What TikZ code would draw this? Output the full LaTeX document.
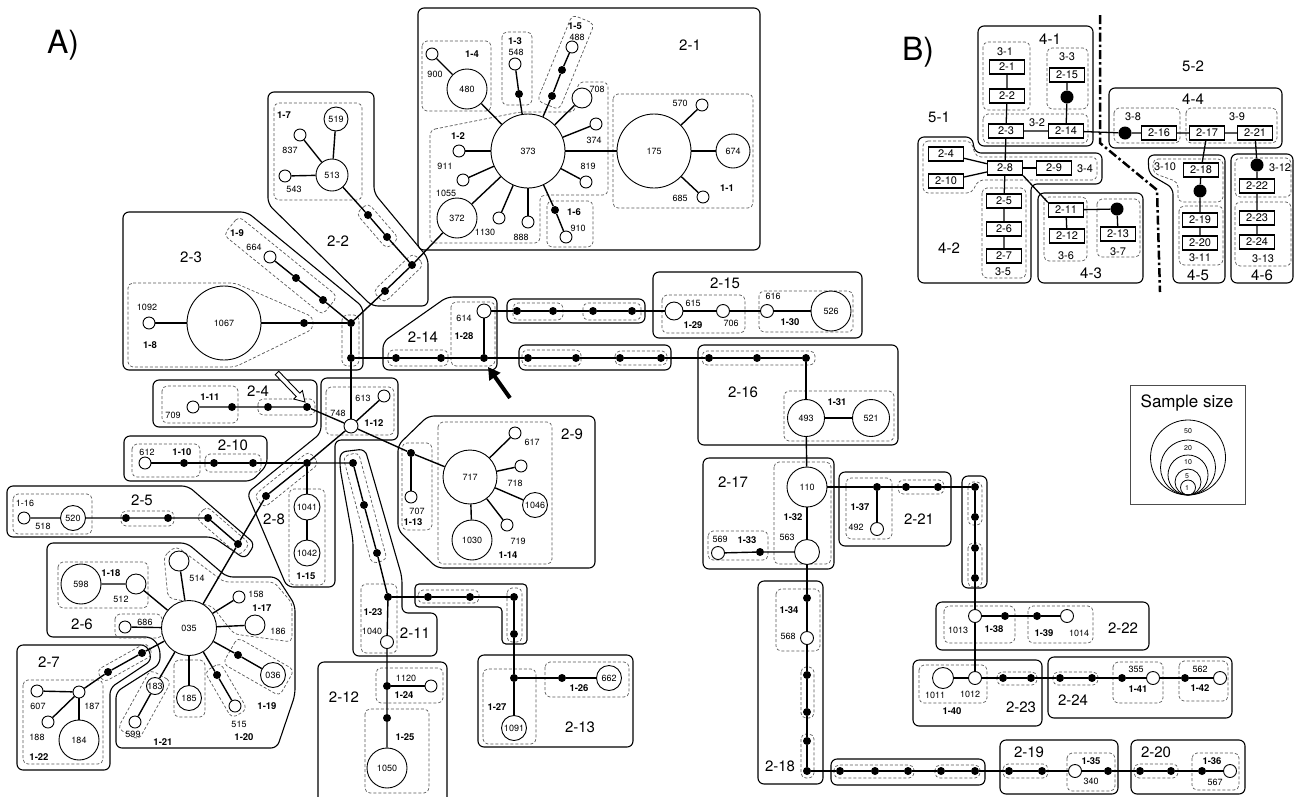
\documentclass[tikz,border=0pt]{standalone}
\usepackage{fontspec}
\setmainfont{TeX Gyre Heros}
\usetikzlibrary{calc,arrows.meta}
\pgfdeclarelayer{bg}\pgfdeclarelayer{mid}\pgfsetlayers{bg,mid,main}
\tikzset{
 hap/.style={circle,draw,line width=0.9pt,fill=white,inner sep=0pt,font=\fontsize{9}{9}\selectfont},
 dot/.style={circle,fill=black,inner sep=0pt,minimum size=8pt},
 bdot/.style={circle,fill=black,inner sep=0pt,minimum size=13pt},
 edge/.style={line width=1.4pt},
 bedge/.style={line width=1.3pt},
 grp/.style={draw,line width=1.1pt,rounded corners=6pt},
 sub/.style={draw=black!65,line width=0.7pt,dash pattern=on 3pt off 2pt,rounded corners=5pt},
 sl/.style={inner sep=0pt,font=\fontsize{9}{9}\selectfont},
 bl/.style={inner sep=0pt,font=\fontsize{9.5}{9.5}\selectfont\bfseries},
 gl/.style={inner sep=0pt,font=\fontsize{15}{15}\selectfont},
 ml/.style={inner sep=0pt,font=\fontsize{11}{11}\selectfont},
 big/.style={inner sep=0pt,font=\fontsize{32}{32}\selectfont},
 tl/.style={inner sep=0pt,font=\fontsize{7}{7}\selectfont},
 bx/.style={draw,line width=1.3pt,minimum width=35pt,minimum height=14pt,inner sep=0pt,fill=white,font=\fontsize{11}{11}\selectfont},
}
\newcounter{lbn}
\newcommand\mkH[5]{\node[hap,minimum size=#4pt] (#1) at (#2,#3) {#5};}
\newcommand\mkD[3]{\node[dot] (#1) at (#2,#3) {};}
\newcommand\mkL[4][sl]{\stepcounter{lbn}\node[#1] (lab\thelbn) at (#2,#3) {#4};}
\newcommand\rb[4]{\draw[grp] (#1,#2) rectangle (#3,#4);}
\newcommand\db[4]{\draw[sub] (#1,#2) rectangle (#3,#4);}
\newcommand\tb[7]{%
 \coordinate (tbA) at (#1,#2);\coordinate (tbB) at (#3,#4);
 \coordinate (tbP) at ($(tbA)!-#6pt!(tbB)$);\coordinate (tbQ) at ($(tbB)!-#7pt!(tbA)$);
 \draw[sub] ($(tbP)!#5pt!90:(tbQ)$) -- ($(tbP)!#5pt!-90:(tbQ)$) -- ($(tbQ)!#5pt!90:(tbP)$) -- ($(tbQ)!#5pt!-90:(tbP)$) -- cycle;}
\begin{document}
\begin{tikzpicture}[x=1pt,y=-1pt]
\useasboundingbox (0,0) rectangle (1298,796);
% ---------------- nodes A ----------------
% 2-1
\mkH{h373}{528}{151}{74}{373}
\mkH{h175}{654}{151}{74}{175}
\mkH{h674}{733}{151}{34}{674}
\mkH{h570}{702}{105}{12}{}
\mkH{h685}{703}{197}{12}{}
\mkH{h480}{467}{89}{40}{480}
\mkH{h900}{432}{54}{12}{}
\mkH{h548}{515}{64}{12}{}
\mkD{d13}{519}{94}
\mkH{h488}{572}{47}{12}{}
\mkD{d15a}{562}{70}
\mkD{d15b}{552}{96}
\mkH{h708}{582}{98}{20}{}
\mkH{h374}{596}{124}{12}{}
\mkH{h819}{586}{182}{12}{}
\mkD{d16}{555}{210}
\mkH{h910}{566}{237}{12}{}
\mkH{h888}{528}{222}{12}{}
\mkH{h1130}{499}{218}{12}{}
\mkH{h372}{457}{218}{40}{372}
\mkH{h911}{459}{151}{12}{}
\mkH{h911b}{463}{180}{12}{}
% 2-2
\mkH{h513}{332}{175}{32}{513}
\mkH{h519}{336}{119}{24}{519}
\mkH{h837}{300}{135}{12}{}
\mkH{h543}{285}{176}{12}{}
\mkD{d22a}{368}{215}
\mkD{d22b}{387}{237}
\mkD{d22c}{412}{265}
\mkD{d22d}{385}{291}
\mkD{d23a}{351}{323}
\mkD{d23b}{351}{358}
% 2-3
\mkH{h1067}{224}{323}{74}{1067}
\mkH{h1092}{149}{323}{12}{}
\mkD{d8}{304}{323}
\mkH{h664}{270}{257}{12}{}
\mkD{d9a}{296}{278}
\mkD{d9b}{323}{300}
% 2-4
\mkH{h709}{193}{407}{12}{}
\mkD{g1}{232}{407}
\mkD{d4a}{268}{407}
\mkD{d4b}{307}{407}
% 2-8
\mkH{h748}{351}{426}{14}{}
\mkH{h613}{384}{396}{12}{}
\mkD{d8a}{307}{463}
\mkD{d8b}{266}{496}
\mkH{h1041}{307}{507}{26}{1041}
\mkH{h1042}{307}{553}{26}{1042}
% 2-10
\mkH{h612}{145}{463}{12}{}
\mkD{d10a}{184}{463}
\mkD{d10b}{214}{463}
\mkD{d10c}{253}{463}
% 2-5
\mkH{h518}{24}{518}{12}{}
\mkH{h520}{73}{518}{25}{520}
\mkD{d5a}{126}{518}
\mkD{d5b}{168}{518}
\mkD{d5c}{208}{518}
\mkD{d5e}{238}{544}
% 2-6
\mkH{h035}{189}{628}{55}{035}
\mkH{h598}{81}{584}{40}{598}
\mkH{h512}{136}{584}{20}{}
\mkH{h514}{179}{561}{20}{}
\mkH{h158}{239}{597}{12}{}
\mkH{h186}{255}{625}{20}{}
\mkH{h686}{125}{627}{12}{}
\mkD{d36}{238}{655}
\mkH{h036}{273}{675}{25}{036}
\mkD{d20}{217}{675}
\mkH{h515}{235}{706}{12}{}
\mkH{h185}{189}{698}{25}{185}
\mkH{h183}{155}{686}{17}{183}
\mkH{h599}{135}{722}{12}{}
\mkD{d27a}{142}{653}
\mkD{d27b}{108}{672}
\mkH{h187}{79}{692}{12}{}
\mkH{h607}{37}{691}{12}{}
\mkH{h188}{48}{722}{12}{}
\mkH{h184}{79}{740}{40}{184}
% 2-11
\mkD{d11a}{353}{463}
\mkD{d11b}{364}{505}
\mkD{d11c}{377}{553}
\mkD{d11d}{388}{597}
\mkH{h1040}{387}{642}{13}{}
\mkD{d12a}{428}{597}
\mkD{d12b}{470}{597}
\mkD{d12c}{514}{597}
\mkD{d12d}{514}{634}
% 2-12
\mkD{d24}{387}{686}
\mkH{h1120}{431}{686}{12}{}
\mkD{d25}{387}{718}
\mkH{h1050}{387}{768}{40}{1050}
% 2-13
\mkD{d13j}{514}{678}
\mkH{h1091}{514}{728}{25}{1091}
\mkD{d26}{562}{678}
\mkH{h662}{609}{678}{25}{662}
% 2-9
\mkD{d9x}{411}{453}
\mkH{h707}{411}{497}{12}{}
\mkH{h717}{470}{477}{54}{717}
\mkH{h617}{515}{433}{12}{}
\mkH{h718}{521}{466}{12}{}
\mkH{h1046}{535}{505}{25}{1046}
\mkH{h719}{507}{525}{12}{}
\mkH{h1030}{472}{540}{40}{1030}
% 2-14
\mkH{h614}{484}{311}{14}{}
\mkD{d28}{484}{358}
\mkD{d14a}{396}{358}
\mkD{d14b}{441}{358}
\mkD{s1}{528}{358}\mkD{s2}{576}{358}\mkD{s3}{620}{358}\mkD{s4}{661}{358}
\mkD{s5}{709}{358}\mkD{s6}{757}{358}\mkD{s7}{806}{358}
\mkD{r1}{517}{311}\mkD{r2}{553}{311}\mkD{r3}{593}{311}\mkD{r4}{632}{311}
\mkH{h615}{674}{311}{18}{}
\mkH{h706}{723}{311}{13}{}
\mkH{h616}{767}{311}{13}{}
\mkH{h526}{831}{311}{40}{526}
% 2-16, 2-17
\mkH{h493}{806}{418}{37}{493}
\mkH{h521}{871}{418}{37}{521}
\mkH{h110}{807}{487}{40}{110}
\mkH{h563}{807}{552}{25}{}
\mkH{h569}{718}{553}{13}{}
\mkD{d33}{760}{552}
% 2-21, column
\mkD{d37}{877}{487}
\mkH{h492}{877}{529}{13}{}
\mkD{d21a}{906}{487}
\mkD{d21b}{938}{487}
\mkD{c1}{975}{487}\mkD{c2}{975}{517}\mkD{c3}{975}{548}\mkD{c4}{975}{578}
% 2-22
\mkH{h1013}{975}{616}{13}{}
\mkD{d38}{1005}{616}
\mkD{d39}{1037}{616}
\mkH{h1014}{1067}{616}{13}{}
% 2-23, 2-24
\mkH{h1011}{943}{678}{21}{}
\mkH{h1012}{975}{678}{13}{}
\mkD{d23x}{1003}{678}
\mkD{d23y}{1031}{678}
\mkD{d24a}{1060}{678}
\mkD{d24b}{1092}{678}
\mkD{d41}{1122}{678}
\mkH{h355}{1153}{678}{13}{}
\mkD{d42}{1185}{678}
\mkH{h562}{1220}{678}{13}{}
% 2-18 .. 2-20
\mkD{d34}{807}{598}
\mkH{h568}{807}{638}{13}{}
\mkD{q1}{807}{675}\mkD{q2}{807}{712}\mkD{q3}{807}{741}\mkD{q4}{807}{771}
\mkD{w1}{840}{771}\mkD{w2}{875}{771}\mkD{w3}{908}{771}\mkD{w4}{941}{771}\mkD{w5}{975}{771}
\mkD{d19a}{1009}{771}\mkD{d19b}{1042}{771}
\mkH{h340}{1075}{771}{13}{}
\mkD{d35}{1108}{771}
\mkD{d20a}{1140}{771}\mkD{d20b}{1171}{771}
\mkD{d36x}{1202}{771}
\mkH{h567}{1230}{771}{13}{}
% ---------------- labels A ----------------
\mkL[big]{63}{45}{A)}
\mkL[gl]{690}{45}{2-1}\mkL[gl]{338}{241}{2-2}\mkL[gl]{191}{257}{2-3}\mkL[gl]{258}{391}{2-4}
\mkL[gl]{142}{500}{2-5}\mkL[gl]{82}{624}{2-6}\mkL[gl]{49}{662}{2-7}\mkL[gl]{274}{519}{2-8}
\mkL[gl]{572}{434}{2-9}\mkL[gl]{233}{445}{2-10}\mkL[gl]{415}{633}{2-11}\mkL[gl]{344}{697}{2-12}
\mkL[gl]{580}{727}{2-13}\mkL[gl]{423}{337}{2-14}\mkL[gl]{725}{283}{2-15}\mkL[gl]{743}{392}{2-16}
\mkL[gl]{733}{482}{2-17}\mkL[gl]{780}{766}{2-18}\mkL[gl]{1029}{752}{2-19}\mkL[gl]{1156}{752}{2-20}
\mkL[gl]{919}{519}{2-21}\mkL[gl]{1123}{628}{2-22}\mkL[gl]{1021}{707}{2-23}\mkL[gl]{1073}{700}{2-24}
\mkL{680}{103}{570}\mkL{680}{198}{685}\mkL[bl]{727}{188}{1-1}\mkL{435}{74}{900}\mkL[bl]{472}{54}{1-4}
\mkL{516}{52}{548}\mkL[bl]{515}{41}{1-3}\mkL{577}{37}{488}\mkL[bl]{575}{26}{1-5}\mkL{597}{89}{708}
\mkL{594}{140}{374}\mkL{588}{166}{819}\mkL[bl]{574}{212}{1-6}\mkL{578}{228}{910}\mkL{521}{237}{888}
\mkL{485}{232}{1130}\mkL{446}{193}{1055}\mkL{445}{166}{911}\mkL[bl]{458}{136}{1-2}
\mkL[bl]{284}{115}{1-7}\mkL{290}{150}{837}\mkL{294}{189}{543}
\mkL[bl]{237}{233}{1-9}\mkL{254}{247}{664}\mkL{147}{307}{1092}\mkL[bl]{150}{345}{1-8}
\mkL[bl]{210}{397}{1-11}\mkL{173}{415}{709}
\mkL{338}{413}{748}\mkL{363}{398}{613}\mkL[bl]{374}{423}{1-12}\mkL[bl]{306}{576}{1-15}
\mkL{147}{452}{612}\mkL[bl]{182}{452}{1-10}
\mkL{25}{503}{1-16}\mkL{43}{526}{518}
\mkL[bl]{111}{573}{1-18}\mkL{121}{599}{512}\mkL{197}{578}{514}\mkL{256}{594}{158}\mkL[bl]{262}{608}{1-17}
\mkL{278}{631}{186}\mkL{145}{622}{686}\mkL{239}{724}{515}\mkL[bl]{267}{706}{1-19}\mkL[bl]{244}{737}{1-20}
\mkL{133}{734}{599}\mkL[bl]{163}{742}{1-21}
\mkL{92}{706}{187}\mkL{38}{706}{607}\mkL{37}{737}{188}\mkL[bl]{39}{757}{1-22}
\mkL[bl]{373}{612}{1-23}\mkL{372}{631}{1040}
\mkL{406}{678}{1120}\mkL[bl]{404}{695}{1-24}\mkL[bl]{405}{737}{1-25}
\mkL[bl]{497}{707}{1-27}\mkL[bl]{579}{688}{1-26}
\mkL{532}{442}{617}\mkL{515}{483}{718}\mkL{518}{541}{719}\mkL[bl]{508}{555}{1-14}\mkL{417}{511}{707}\mkL[bl]{413}{522}{1-13}
\mkL{464}{318}{614}\mkL[bl]{464}{336}{1-28}
\mkL{693}{303}{615}\mkL[bl]{693}{325}{1-29}\mkL{731}{323}{706}\mkL{773}{296}{616}\mkL[bl]{790}{322}{1-30}
\mkL[bl]{837}{402}{1-31}
\mkL[bl]{793}{517}{1-32}\mkL{787}{537}{563}\mkL{720}{539}{569}\mkL[bl]{747}{540}{1-33}
\mkL[bl]{860}{507}{1-37}\mkL{856}{527}{492}
\mkL{958}{630}{1013}\mkL[bl]{994}{629}{1-38}\mkL[bl]{1044}{633}{1-39}\mkL{1079}{633}{1014}
\mkL{935}{695}{1011}\mkL{970}{694}{1012}\mkL[bl]{952}{711}{1-40}
\mkL{1136}{669}{355}\mkL[bl]{1138}{689}{1-41}\mkL{1200}{669}{562}\mkL[bl]{1200}{688}{1-42}
\mkL[bl]{789}{610}{1-34}\mkL{788}{636}{568}
\mkL[bl]{1091}{761}{1-35}\mkL{1091}{781}{340}
\mkL[bl]{1212}{761}{1-36}\mkL{1215}{782}{567}
% arrows
\coordinate (ba1) at (510,398);\coordinate (ba2) at (488,367);
\draw[line width=4pt,-{Triangle[length=12pt,width=13pt]}] (ba1) -- (ba2);
\draw[line width=0.9pt,fill=white] (275.2,374.7) -- (296.25,396.5) -- (293.7,399.0) -- (305,402) -- (302.4,390.6) -- (299.85,393.1) -- (278.8,371.3) -- cycle;
% ---------------- panel B ----------------
\mkL[big]{918}{52}{B)}
\node[bx] (b21) at (1007,67) {2-1};
\node[bx] (b22) at (1007,96) {2-2};
\node[bx] (b23) at (1006,131) {2-3};
\node[bx] (b214) at (1066,131) {2-14};
\node[bx] (b215) at (1067,75) {2-15};
\node[bdot] (bd1) at (1067,97) {};
\node[bdot] (bd2) at (1125,133) {};
\node[bx] (b216) at (1159,133) {2-16};
\node[bx] (b217) at (1207,133) {2-17};
\node[bx] (b221) at (1255,133) {2-21};
\node[bx] (b24) at (946,154) {2-4};
\node[bx] (b210) at (946,181) {2-10};
\node[bx] (b28) at (1005,168) {2-8};
\node[bx] (b29) at (1054,168) {2-9};
\node[bx] (b25) at (1004,201) {2-5};
\node[bx] (b26) at (1004,229) {2-6};
\node[bx] (b27) at (1004,256) {2-7};
\node[bx] (b211) at (1066,210) {2-11};
\node[bx] (b212) at (1067,236) {2-12};
\node[bdot] (bd3) at (1117,209) {};
\node[bx] (b213) at (1118,234) {2-13};
\node[bx] (b218) at (1201,170) {2-18};
\node[bdot] (bd4) at (1200,191) {};
\node[bx] (b219) at (1200,220) {2-19};
\node[bx] (b220) at (1200,243) {2-20};
\node[bdot] (bd5) at (1257,165) {};
\node[bx] (b222) at (1257,186) {2-22};
\node[bx] (b223) at (1257,218) {2-23};
\node[bx] (b224) at (1257,242) {2-24};
\mkL[gl]{1050}{39}{4-1}\mkL[ml]{1005}{52}{3-1}\mkL[ml]{1067}{57}{3-3}\mkL[ml]{1037}{123}{3-2}
\mkL[gl]{1193}{66}{5-2}\mkL[gl]{939}{117}{5-1}\mkL[gl]{1193}{99}{4-4}\mkL[ml]{1133}{117}{3-8}
\mkL[ml]{1237}{117}{3-9}\mkL[ml]{1085}{169}{3-4}\mkL[gl]{949}{248}{4-2}\mkL[ml]{1003}{272}{3-5}
\mkL[gl]{1091}{273}{4-3}\mkL[ml]{1066}{256}{3-6}\mkL[ml]{1118}{252}{3-7}\mkL[ml]{1165}{167}{3-10}
\mkL[ml]{1200}{258}{3-11}\mkL[gl]{1198}{275}{4-5}\mkL[ml]{1280}{168}{3-12}\mkL[ml]{1263}{259}{3-13}
\mkL[gl]{1262}{275}{4-6}
% legend
\draw[line width=0.8pt,draw=black!70] (1130,385) rectangle (1245,504);
\stepcounter{lbn}\node[inner sep=0pt,font=\fontsize{17}{17}\selectfont] (lab\thelbn) at (1187,403) {Sample size};
\node[circle,draw,line width=0.8pt,inner sep=0pt,minimum size=75pt] (lg50) at (1188,457.5) {};
\node[circle,draw,line width=0.8pt,inner sep=0pt,minimum size=55pt] (lg20) at (1188,467.5) {};
\node[circle,draw,line width=0.8pt,inner sep=0pt,minimum size=40pt] (lg10) at (1188,475) {};
\node[circle,draw,line width=0.8pt,inner sep=0pt,minimum size=26pt] (lg5) at (1188,482) {};
\node[circle,draw,line width=0.8pt,inner sep=0pt,minimum size=15pt] (lg1) at (1188,487.5) {};
\mkL[tl]{1188}{431}{50}\mkL[tl]{1188}{448}{20}\mkL[tl]{1188}{462}{10}\mkL[tl]{1187}{476}{5}\mkL[tl]{1187}{488}{1}
% ---------------- boxes ----------------
\begin{pgfonlayer}{bg}
% 2-1
\rb{418}{8}{760}{250}
\db{613}{94}{753}{208}\db{422}{41}{491}{111}\db{502}{32}{532}{105}\db{547}{201}{593}{247}
\draw[sub] (430,130) -- (520,112) -- (575,112) -- (578,82) -- (608,82) -- (608,195) -- (540,195) -- (540,243) -- (430,243) -- cycle;
\tb{572}{47}{552}{96}{12}{30}{10}
% 2-2
\draw[grp] (268,92) -- (374,92) -- (374,193) -- (428,258) -- (428,306) -- (372,306) -- (268,204) -- cycle;
\db{274}{103}{362}{200}
\tb{368}{215}{387}{237}{8}{9}{9}
\tb{412}{265}{385}{291}{8}{9}{9}
% 2-3
\draw[grp] (123,212) -- (247,212) -- (363,307) -- (363,370) -- (123,370) -- cycle;
\draw[sub] (128,283) -- (235,283) -- (313,317) -- (313,329) -- (235,367) -- (128,367) -- cycle;
\tb{270}{257}{323}{300}{12}{50}{9}
\db{342}{315}{359}{366}
% 2-4
\rb{153}{380}{317}{427}\db{162}{386}{238}{423}\db{258}{399}{315}{415}
% 2-8
\draw[grp] (321,378) -- (398,378) -- (398,440) -- (335,440) -- (335,587) -- (287,587) -- (247,493) -- (321,433) -- cycle;
\db{326}{387}{394}{435}\tb{307}{463}{266}{496}{8}{9}{9}\db{289}{489}{325}{585}
% 2-10
\draw[grp] (124,436) -- (267,436) -- (267,465) -- (252,481) -- (124,481) -- cycle;
\db{132}{444}{200}{477}\db{205}{454}{261}{472}
% 2-5
\draw[grp] (7,486) -- (188,486) -- (255,544) -- (245,559) -- (213,537) -- (7,537) -- cycle;
\db{13}{494}{92}{534}\db{121}{511}{174}{526}\tb{208}{518}{238}{544}{8}{9}{9}
% 2-6, 2-7
\draw[grp] (47,543) -- (187,543) -- (227,577) -- (277,577) -- (295,605) -- (295,695) -- (277,748) -- (116,748) -- (116,692) -- (160,664) -- (160,648) -- (152,637) -- (47,637) -- cycle;
\draw[grp] (17,645) -- (147,645) -- (152,660) -- (110,688) -- (110,770) -- (17,770) -- cycle;
\db{58}{562}{148}{608}\db{115}{614}{162}{638}\db{23}{680}{103}{764}\db{174}{660}{205}{717}
\tb{142}{653}{108}{672}{7}{9}{9}
\tb{238}{655}{273}{675}{15}{9}{16}
\tb{217}{675}{235}{706}{9}{9}{9}
\tb{155}{686}{135}{722}{12}{12}{14}
\draw[sub] (164,556) -- (176,546) -- (224,582) -- (274,582) -- (292,603) -- (292,642) -- (234,634) -- (212,606) -- (168,598) -- cycle;
% 2-11
\draw[grp] (340,452) -- (365,449) -- (402,577) -- (402,613) -- (437,613) -- (437,656) -- (353,656) -- (353,540) -- (340,468) -- cycle;
\tb{353}{463}{377}{553}{8}{9}{9}\db{361}{584}{397}{653}
\draw[grp,rounded corners=4pt] (415,584) -- (527,584) -- (527,644) -- (502,644) -- (502,607) -- (415,607) -- cycle;
\db{418}{590}{479}{603}\db{507}{588}{522}{642}
% 2-12, 2-13
\draw[grp] (318,800) -- (318,662) -- (447,662) -- (447,800);
\db{376}{668}{443}{703}\db{365}{709}{429}{793}
\rb{478}{655}{633}{747}\db{483}{669}{536}{744}\db{545}{662}{629}{697}
% 2-9
\draw[grp] (428,416) -- (595,416) -- (595,568) -- (437,568) -- (398,530) -- (398,445) -- cycle;
\db{438}{422}{552}{564}\db{402}{443}{432}{530}
% 2-14 and rows
\draw[grp] (383,342) -- (447,297) -- (497,297) -- (497,370) -- (383,370) -- cycle;
\db{451}{302}{495}{366}\db{388}{350}{448}{366}
\rb{519}{345}{671}{370}\db{522}{350}{581}{366}\db{615}{351}{667}{365}
\rb{507}{299}{645}{323}\db{513}{303}{563}{320}\db{583}{303}{641}{320}
% 2-15 .. 2-24
\rb{653}{272}{862}{338}\db{662}{295}{745}{333}\db{759}{291}{853}{332}
\rb{698}{345}{898}{445}\db{702}{351}{815}{365}\db{784}{391}{894}{441}
\rb{703}{458}{834}{569}\db{774}{462}{831}{564}\db{708}{531}{768}{560}
\rb{839}{472}{951}{546}\db{846}{478}{892}{539}\db{898}{480}{944}{494}
\rb{962}{476}{987}{588}\db{968}{482}{982}{525}\db{968}{543}{982}{587}
\rb{936}{602}{1149}{650}\db{944}{606}{1015}{643}\db{1028}{606}{1093}{643}
\rb{913}{660}{1042}{726}\db{919}{665}{987}{703}\db{997}{672}{1037}{685}
\rb{1048}{657}{1232}{718}\db{1053}{672}{1098}{685}\db{1113}{662}{1163}{703}\db{1179}{661}{1228}{701}
\rb{758}{581}{823}{784}\db{776}{589}{820}{651}\db{801}{667}{814}{718}\db{801}{734}{814}{778}
\rb{831}{759}{985}{785}\db{834}{765}{914}{778}\db{935}{765}{980}{778}
\rb{1000}{740}{1118}{794}\db{1003}{764}{1048}{778}\db{1067}{753}{1115}{791}
\rb{1131}{740}{1245}{794}\db{1134}{764}{1178}{778}\db{1192}{753}{1239}{790}
% panel B boxes
\rb{978}{26}{1093}{146}\db{983}{42}{1030}{110}\db{1047}{48}{1088}{109}\db{983}{114}{1088}{143}
\rb{1109}{88}{1282}{148}\db{1114}{108}{1180}{143}\db{1186}{108}{1277}{143}
\draw[grp] (918,137) -- (972,137) -- (975,153) -- (1102,153) -- (1102,184) -- (1031,184) -- (1031,283) -- (918,283) -- cycle;
\draw[sub] (923,141) -- (971,141) -- (976,157) -- (1097,157) -- (1097,180) -- (978,180) -- (972,193) -- (923,193) -- cycle;
\db{982}{188}{1026}{278}
\rb{1038}{193}{1143}{283}\db{1044}{197}{1087}{261}\db{1097}{199}{1140}{257}
\draw[grp] (1148,155) -- (1225,155) -- (1225,283) -- (1173,283) -- (1173,188) -- (1149,174) -- cycle;
\draw[sub] (1153,159) -- (1223,159) -- (1223,202) -- (1178,202) -- (1178,182) -- (1153,173) -- cycle;
\db{1179}{206}{1223}{265}
\rb{1231}{154}{1293}{283}\db{1235}{158}{1291}{197}\db{1235}{202}{1291}{266}
\draw[line width=2.5pt,dash pattern=on 9pt off 3pt on 2.5pt off 3pt] (1100,15) -- (1100,143) -- (1157,190) -- (1160,292);
\end{pgfonlayer}
% ---------------- edges ----------------
\begin{pgfonlayer}{mid}
\draw[edge] (h373)--(h175); \draw[edge] (h175)--(h674); \draw[edge] (h175)--(h570); \draw[edge] (h175)--(h685);
\draw[edge] (h373)--(h480)--(h900);
\draw[edge] (h373)--(d13)--(h548);
\draw[edge] (h373)--(d15b)--(d15a)--(h488);
\draw[edge] (h373)--(h708); \draw[edge] (h373)--(h374); \draw[edge] (h373)--(h819);
\draw[edge] (h373)--(d16)--(h910);
\draw[edge] (h373)--(h888); \draw[edge] (h373)--(h1130); \draw[edge] (h373)--(h372);
\draw[edge] (h373)--(h911); \draw[edge] (h373)--(h911b);
\draw[edge] (h513)--(h519); \draw[edge] (h513)--(h837); \draw[edge] (h513)--(h543);
\draw[edge] (h513)--(d22a)--(d22b)--(d22c)--(h372);
\draw[edge] (d22c)--(d22d)--(d23a);
\draw[edge] (h1092)--(h1067)--(d8)--(d23a);
\draw[edge] (h664)--(d9a)--(d9b)--(d23a);
\draw[edge] (d23a)--(d23b);
\draw[edge] (d23b)--(d14a)--(d14b)--(d28)--(s1)--(s2)--(s3)--(s4)--(s5)--(s6)--(s7)--(h493);
\draw[edge] (d28)--(h614)--(r1)--(r2)--(r3)--(r4)--(h615)--(h706)--(h616)--(h526);
\draw[edge] (h493)--(h521); \draw[edge] (h493)--(h110);
\draw[edge] (h110)--(h563); \draw[edge] (h563)--(d33)--(h569);
\draw[edge] (h563)--(d34)--(h568)--(q1)--(q2)--(q3)--(q4)--(w1)--(w2)--(w3)--(w4)--(w5)--(d19a)--(d19b)--(h340)--(d35)--(d20a)--(d20b)--(d36x)--(h567);
\draw[edge] (h110)--(d37)--(d21a)--(d21b)--(c1)--(c2)--(c3)--(c4)--(h1013);
\draw[edge] (d37)--(h492);
\draw[edge] (h1013)--(d38)--(d39)--(h1014); \draw[edge] (h1013)--(h1012);
\draw[edge] (h1011)--(h1012)--(d23x)--(d23y)--(d24a)--(d24b)--(d41)--(h355)--(d42)--(h562);
\draw[edge] (d23b)--(h748); \draw[edge] (h748)--(h613);
\draw[edge] (h748)--(d4b)--(d4a)--(g1)--(h709);
\draw[edge] (h748)--(d8a)--(d8b)--(d5e)--(h035);
\draw[edge] (d8a)--(d10c)--(d10b)--(d10a)--(h612);
\draw[edge] (d8a)--(d11a)--(d11b)--(d11c)--(d11d)--(h1040)--(d24)--(d25)--(h1050);
\draw[edge] (d24)--(h1120);
\draw[edge] (d11d)--(d12a)--(d12b)--(d12c)--(d12d)--(d13j)--(h1091);
\draw[edge] (d13j)--(d26)--(h662);
\draw[edge] (d8a)--(h1041)--(h1042);
\draw[edge] (h748)--(d9x)--(h717); \draw[edge] (d9x)--(h707);
\draw[edge] (h717)--(h617); \draw[edge] (h717)--(h718); \draw[edge] (h717)--(h1046); \draw[edge] (h717)--(h719); \draw[edge] (h717)--(h1030);
\draw[edge] (h518)--(h520)--(d5a)--(d5b)--(d5c)--(d5e);
\draw[edge] (h035)--(h512)--(h598); \draw[edge] (h035)--(h514); \draw[edge] (h035)--(h158); \draw[edge] (h035)--(h186);
\draw[edge] (h035)--(d36)--(h036); \draw[edge] (h035)--(d20)--(h515); \draw[edge] (h035)--(h185);
\draw[edge] (h035)--(h183)--(h599); \draw[edge] (h035)--(h686);
\draw[edge] (h035)--(d27a)--(d27b)--(h187);
\draw[edge] (h187)--(h607); \draw[edge] (h187)--(h188); \draw[edge] (h187)--(h184);
% panel B
\draw[bedge] (b21)--(b22)--(b23)--(b214)--(bd2)--(b216)--(b217)--(b221);
\draw[bedge] (b214)--(bd1)--(b215);
\draw[bedge] (b23)--(b28); \draw[bedge] (b24)--(b28); \draw[bedge] (b210)--(b28); \draw[bedge] (b28)--(b29);
\draw[bedge] (b28)--(b25)--(b26)--(b27);
\draw[bedge] (b28.south east)--(b211.north west);
\draw[bedge] (b211)--(b212); \draw[bedge] (b211)--(bd3)--(b213);
\draw[bedge] (b217)--(b218)--(bd4)--(b219)--(b220);
\draw[bedge] (b221)--(bd5)--(b222)--(b223)--(b224);
\end{pgfonlayer}
\end{tikzpicture}
\end{document}
